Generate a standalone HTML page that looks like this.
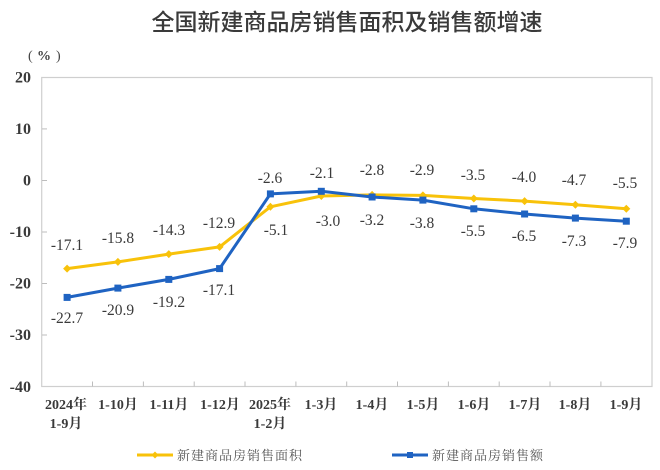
<!DOCTYPE html>
<html>
<head>
<meta charset="utf-8">
<style>
  html,body{margin:0;padding:0;background:#fff;}
  body{width:660px;height:470px;overflow:hidden;}
  svg{display:block;}
  .title{font-family:"Liberation Sans","Noto Sans CJK SC",sans-serif;font-size:23px;font-weight:500;fill:#3a3a3a;}
  .ylab{font-family:"Liberation Serif","Noto Serif CJK SC",serif;font-size:16px;font-weight:bold;fill:#3a3a3a;}
  .xlab{font-family:"Liberation Serif","Noto Serif CJK SC",serif;font-size:14px;font-weight:bold;fill:#3a3a3a;}
  .dl{font-family:"Liberation Serif",serif;font-size:15.5px;fill:#3a3a3a;}
  .unit{font-family:"Liberation Serif",serif;font-size:14px;fill:#444;}
  .leg{font-family:"Liberation Serif","Noto Serif CJK SC",serif;font-size:13px;fill:#555;letter-spacing:1px;}
</style>
</head>
<body>
<svg width="660" height="470" viewBox="0 0 660 470" xmlns="http://www.w3.org/2000/svg">
  <rect width="660" height="470" fill="#fff"/>
  <text class="title" x="347" y="30" text-anchor="middle">全国新建商品房销售面积及销售额增速</text>
  <text class="unit" x="28" y="60">(</text>
  <text class="unit" x="37" y="60" font-weight="bold">%</text>
  <text class="unit" x="56" y="60">)</text>

  <!-- plot frame -->
  <rect x="41.7" y="77.5" width="610.3" height="309" fill="none" stroke="#cfcfcf" stroke-width="1.2"/>

  <!-- y ticks -->
  <g stroke="#bdbdbd" stroke-width="1">
    <line x1="42" y1="128.9" x2="47" y2="128.9"/>
    <line x1="42" y1="180.5" x2="47" y2="180.5"/>
    <line x1="42" y1="232" x2="47" y2="232"/>
    <line x1="42" y1="283.5" x2="47" y2="283.5"/>
    <line x1="42" y1="335" x2="47" y2="335"/>
  </g>
  <!-- x ticks -->
  <g stroke="#bdbdbd" stroke-width="1">
    <line x1="92.5" y1="381.5" x2="92.5" y2="386.5"/>
    <line x1="143.4" y1="381.5" x2="143.4" y2="386.5"/>
    <line x1="194.2" y1="381.5" x2="194.2" y2="386.5"/>
    <line x1="245" y1="381.5" x2="245" y2="386.5"/>
    <line x1="295.9" y1="381.5" x2="295.9" y2="386.5"/>
    <line x1="346.7" y1="381.5" x2="346.7" y2="386.5"/>
    <line x1="397.5" y1="381.5" x2="397.5" y2="386.5"/>
    <line x1="448.4" y1="381.5" x2="448.4" y2="386.5"/>
    <line x1="499.2" y1="381.5" x2="499.2" y2="386.5"/>
    <line x1="550" y1="381.5" x2="550" y2="386.5"/>
    <line x1="600.9" y1="381.5" x2="600.9" y2="386.5"/>
  </g>

  <!-- y labels -->
  <g class="ylab" text-anchor="end">
    <text x="31" y="82.5">20</text>
    <text x="31" y="134">10</text>
    <text x="31" y="185.5">0</text>
    <text x="31" y="237">-10</text>
    <text x="31" y="288.5">-20</text>
    <text x="31" y="340">-30</text>
    <text x="31" y="392">-40</text>
  </g>

  <!-- x labels -->
  <g class="xlab" text-anchor="middle">
    <text x="66" y="409">2024年</text>
    <text x="66" y="428">1-9月</text>
    <text x="118" y="409">1-10月</text>
    <text x="169" y="409">1-11月</text>
    <text x="220" y="409">1-12月</text>
    <text x="270" y="409">2025年</text>
    <text x="270" y="428">1-2月</text>
    <text x="321" y="409">1-3月</text>
    <text x="372" y="409">1-4月</text>
    <text x="423" y="409">1-5月</text>
    <text x="474" y="409">1-6月</text>
    <text x="525" y="409">1-7月</text>
    <text x="575" y="409">1-8月</text>
    <text x="626" y="409">1-9月</text>
  </g>

  <!-- yellow series: sales area -->
  <polyline fill="none" stroke="#F8C20A" stroke-width="3" stroke-linejoin="round"
    points="67.1,268.6 117.9,261.9 168.8,254.1 219.6,246.9 270.4,206.8 321.3,196.0 372.1,194.9 422.9,195.4 473.8,198.5 524.6,201.1 575.4,204.7 626.3,208.8"/>
  <g fill="#F8C20A">
    <polygon points="67.1,264.6 71.1,268.6 67.1,272.6 63.1,268.6"/>
    <polygon points="117.9,257.9 121.9,261.9 117.9,265.9 113.9,261.9"/>
    <polygon points="168.8,250.1 172.8,254.1 168.8,258.1 164.8,254.1"/>
    <polygon points="219.6,242.9 223.6,246.9 219.6,250.9 215.6,246.9"/>
    <polygon points="270.4,202.8 274.4,206.8 270.4,210.8 266.4,206.8"/>
    <polygon points="321.3,192.0 325.3,196.0 321.3,200.0 317.3,196.0"/>
    <polygon points="372.1,190.9 376.1,194.9 372.1,198.9 368.1,194.9"/>
    <polygon points="422.9,191.4 426.9,195.4 422.9,199.4 418.9,195.4"/>
    <polygon points="473.8,194.5 477.8,198.5 473.8,202.5 469.8,198.5"/>
    <polygon points="524.6,197.1 528.6,201.1 524.6,205.1 520.6,201.1"/>
    <polygon points="575.4,200.7 579.4,204.7 575.4,208.7 571.4,204.7"/>
    <polygon points="626.3,204.8 630.3,208.8 626.3,212.8 622.3,208.8"/>
  </g>

  <!-- blue series: sales amount -->
  <polyline fill="none" stroke="#1F63C2" stroke-width="3" stroke-linejoin="round"
    points="67.1,297.4 117.9,288.1 168.8,279.4 219.6,268.6 270.4,193.9 321.3,191.3 372.1,197.0 422.9,200.1 473.8,208.8 524.6,214.0 575.4,218.1 626.3,221.2"/>
  <g fill="#1F63C2">
    <rect x="63.6" y="293.9" width="7" height="7"/>
    <rect x="114.4" y="284.6" width="7" height="7"/>
    <rect x="165.3" y="275.9" width="7" height="7"/>
    <rect x="216.1" y="265.1" width="7" height="7"/>
    <rect x="266.9" y="190.4" width="7" height="7"/>
    <rect x="317.8" y="187.8" width="7" height="7"/>
    <rect x="368.6" y="193.5" width="7" height="7"/>
    <rect x="419.4" y="196.6" width="7" height="7"/>
    <rect x="470.3" y="205.3" width="7" height="7"/>
    <rect x="521.1" y="210.5" width="7" height="7"/>
    <rect x="571.9" y="214.6" width="7" height="7"/>
    <rect x="622.8" y="217.7" width="7" height="7"/>
  </g>

  <!-- data labels yellow -->
  <g class="dl" text-anchor="middle">
    <text x="67" y="250">-17.1</text>
    <text x="118" y="243">-15.8</text>
    <text x="169" y="235">-14.3</text>
    <text x="219" y="228">-12.9</text>
    <text x="276" y="235">-5.1</text>
    <text x="328" y="226">-3.0</text>
    <text x="372" y="175">-2.8</text>
    <text x="422" y="175">-2.9</text>
    <text x="473" y="180">-3.5</text>
    <text x="524" y="182">-4.0</text>
    <text x="574" y="185">-4.7</text>
    <text x="625" y="188">-5.5</text>
  </g>
  <!-- data labels blue -->
  <g class="dl" text-anchor="middle">
    <text x="67" y="323">-22.7</text>
    <text x="118" y="315">-20.9</text>
    <text x="169" y="307">-19.2</text>
    <text x="219" y="295">-17.1</text>
    <text x="270" y="183">-2.6</text>
    <text x="322" y="178">-2.1</text>
    <text x="372" y="225">-3.2</text>
    <text x="422" y="228">-3.8</text>
    <text x="473" y="236">-5.5</text>
    <text x="524" y="241">-6.5</text>
    <text x="574" y="246">-7.3</text>
    <text x="625" y="248">-7.9</text>
  </g>

  <!-- legend -->
  <line x1="137" y1="455" x2="173" y2="455" stroke="#F8C20A" stroke-width="3"/>
  <polygon points="155,451.5 158.5,455 155,458.5 151.5,455" fill="#F8C20A"/>
  <text class="leg" x="177" y="460">新建商品房销售面积</text>

  <line x1="392" y1="455" x2="428" y2="455" stroke="#1F63C2" stroke-width="3"/>
  <rect x="407" y="452" width="6" height="6" fill="#1F63C2"/>
  <text class="leg" x="432" y="460">新建商品房销售额</text>
</svg>
</body>
</html>
